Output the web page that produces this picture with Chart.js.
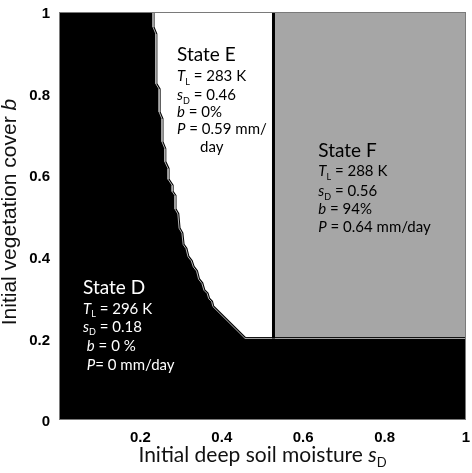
<!DOCTYPE html>
<html>
<head>
<meta charset="utf-8">
<script src="https://cdn.jsdelivr.net/npm/chart.js@4.4.0/dist/chart.umd.min.js"></script>
<style>
  html, body { margin: 0; padding: 0; background: #fff; }
  #wrap { width: 472px; height: 473px; }
</style>
</head>
<body>
<div id="wrap"><canvas id="phase"></canvas></div>
<script>
// axis ticks
const sTicks = [0, 0.2, 0.4, 0.6, 0.8, 1];
const bTicks = [0, 0.2, 0.4, 0.6, 0.8, 1];

// edge between state D (black) and states E/F, read from the top down
const edgeS = [0.231, 0.231, 0.238, 0.238, 0.246, 0.246, 0.253, 0.253, 0.26, 0.26,
               0.268, 0.268, 0.278, 0.278, 0.285, 0.285, 0.292, 0.295, 0.302, 0.305,
               0.312, 0.317, 0.325, 0.33, 0.338, 0.343, 0.351, 0.356, 0.364, 0.368,
               0.375, 0.378, 0.457, 1.0];
const edgeB = [1.0, 0.963, 0.946, 0.824, 0.811, 0.755, 0.738, 0.682, 0.665, 0.633,
               0.616, 0.59, 0.575, 0.56, 0.55, 0.517, 0.505, 0.47, 0.458, 0.43,
               0.42, 0.40, 0.39, 0.375, 0.365, 0.345, 0.335, 0.318, 0.31, 0.297,
               0.29, 0.278, 0.2, 0.2];

// edge between state E (white) and state F (grey)
const splitS = [0.527, 0.527];
const splitB = [0.2, 1.0];

// state F rectangle corners
const regionFS = [0.527, 0.527, 1.0, 1.0];
const regionFB = [0.2, 1.0, 1.0, 0.2];

const toPoints = (xs, ys) => xs.map((x, i) => ({ x, y: ys[i] }));

const regionD = [{ x: 0, y: 0 }, { x: 0, y: 1 }]
  .concat(toPoints(edgeS, edgeB))
  .concat([{ x: 1, y: 0 }]);

// notes: text drawn on the plot, anchor in data units
const notes = [
  { s: 0.29, b: 0.88, color: '#000', steps: [0, 20, 39, 56, 73, 91],
    lines: [
      [['State E', 't']],
      [['T', 'i'], ['L', 'sub'], [' = 283 K', 'n']],
      [['s', 'i'], ['D', 'sub'], [' = 0.46', 'n']],
      [['b', 'i'], [' = 0%', 'n']],
      [['P', 'i'], [' = 0.59 mm/', 'n']],
      [['      day', 'n']]
    ] },
  { s: 0.059, b: 0.31, color: '#fff', steps: [0, 20, 38, 57, 76],
    lines: [
      [['State D', 't']],
      [['T', 'i'], ['L', 'sub'], [' = 296 K', 'n']],
      [['s', 'i'], ['D', 'sub'], [' = 0.18', 'n']],
      [[' ', 'n'], ['b', 'i'], [' = 0 %', 'n']],
      [[' ', 'n'], ['P', 'i'], ['= 0 mm/day', 'n']]
    ] },
  { s: 0.637, b: 0.645, color: '#000', steps: [0, 19, 39, 57, 75],
    lines: [
      [['State F', 't']],
      [['T', 'i'], ['L', 'sub'], [' = 288 K', 'n']],
      [['s', 'i'], ['D', 'sub'], [' = 0.56', 'n']],
      [['b', 'i'], [' = 94%', 'n']],
      [['P', 'i'], [' = 0.64 mm/day', 'n']]
    ] }
];

function fontFor(kind, size, family) {
  if (kind === 't') return '19px ' + family;
  if (kind === 'sub') return Math.round(size * 0.62) + 'px ' + family;
  if (kind === 'i') return 'italic ' + size + 'px ' + family;
  return size + 'px ' + family;
}

function drawRich(ctx, parts, x, y, size, family, align) {
  let w = 0;
  parts.forEach(([t, k]) => { ctx.font = fontFor(k, size, family); w += ctx.measureText(t).width; });
  let cx = align === 'center' ? x - w / 2 : x;
  ctx.textAlign = 'left';
  ctx.textBaseline = 'alphabetic';
  parts.forEach(([t, k]) => {
    ctx.font = fontFor(k, size, family);
    ctx.fillText(t, cx, k === 'sub' ? y + size * 0.25 : y);
    cx += ctx.measureText(t).width;
  });
}

const decorPlugin = {
  id: 'decor',
  afterDatasetsDraw(chart) {
    const { ctx, chartArea: a, scales } = chart;
    ctx.save();
    // plot frame
    ctx.strokeStyle = '#7a7a7a';
    ctx.lineWidth = 1;
    ctx.strokeRect(a.left + 0.5, a.top + 0.5, a.right - a.left - 1, a.bottom - a.top - 1);

    // state notes
    notes.forEach(n => {
      const x = scales.x.getPixelForValue(n.s);
      const y = scales.y.getPixelForValue(n.b);
      ctx.fillStyle = n.color;
      n.lines.forEach((parts, i) => drawRich(ctx, parts, x, y + n.steps[i], 15, 'Lato', 'left'));
    });

    // axis titles
    ctx.fillStyle = '#111';
    drawRich(ctx, [['Initial deep soil moisture ', 'n'], ['s', 'i'], ['D', 'sub']],
      (a.left + a.right) / 2, 462, 21, 'Lato', 'center');
    ctx.translate(16, (a.top + a.bottom) / 2 - 4);
    ctx.rotate(-Math.PI / 2);
    drawRich(ctx, [['Initial vegetation cover ', 'n'], ['b', 'i']], 0, 0, 21, '"Liberation Sans"', 'center');
    ctx.restore();
  }
};

new Chart(document.getElementById('phase'), {
  type: 'line',
  data: {
    datasets: [
      {
        // E/F split
        data: toPoints(splitS, splitB),
        borderColor: '#000', borderWidth: 3, pointRadius: 0, fill: false, clip: 0
      },
      {
        // thin grey rim along the state D edge
        data: toPoints(edgeS, edgeB),
        borderColor: '#b4b4b4', borderWidth: 1, pointRadius: 0, fill: false, clip: 0
      },
      {
        // state D
        data: regionD,
        borderColor: '#000', borderWidth: 3, backgroundColor: '#000',
        pointRadius: 0, fill: 'shape', clip: 0
      },
      {
        // state F
        data: toPoints(regionFS, regionFB),
        borderColor: '#a6a6a6', borderWidth: 0, backgroundColor: '#a6a6a6',
        pointRadius: 0, fill: 'shape', clip: 0
      }
    ]
  },
  options: {
    responsive: true,
    maintainAspectRatio: false,
    animation: false,
    events: [],
    layout: { padding: { top: 12, right: 6, left: 0, bottom: 0 } },
    plugins: { legend: { display: false }, tooltip: { enabled: false } },
    elements: { line: { tension: 0 } },
    scales: {
      x: {
        type: 'linear', min: 0, max: 1,
        afterBuildTicks: s => { s.ticks = sTicks.map(v => ({ value: v })); },
        afterFit: s => { s.height = 53; s.paddingLeft = 0; s.paddingRight = 0; },
        grid: { display: false, drawTicks: false },
        border: { display: false },
        ticks: {
          padding: 9, color: '#000',
          font: { family: '"Liberation Sans", Arial', size: 15, weight: 'bold' },
          callback: v => (v === 0 ? '' : String(v))
        }
      },
      y: {
        type: 'linear', min: 0, max: 1,
        afterBuildTicks: s => { s.ticks = bTicks.map(v => ({ value: v })); },
        afterFit: s => { s.width = 59; s.paddingTop = 0; s.paddingBottom = 0; },
        grid: { display: false, drawTicks: false },
        border: { display: false },
        ticks: {
          padding: 9, color: '#000', labelOffset: 2,
          font: { family: '"Liberation Sans", Arial', size: 15, weight: 'bold' },
          callback: v => String(v)
        }
      }
    }
  },
  plugins: [decorPlugin]
});
</script>
</body>
</html>
